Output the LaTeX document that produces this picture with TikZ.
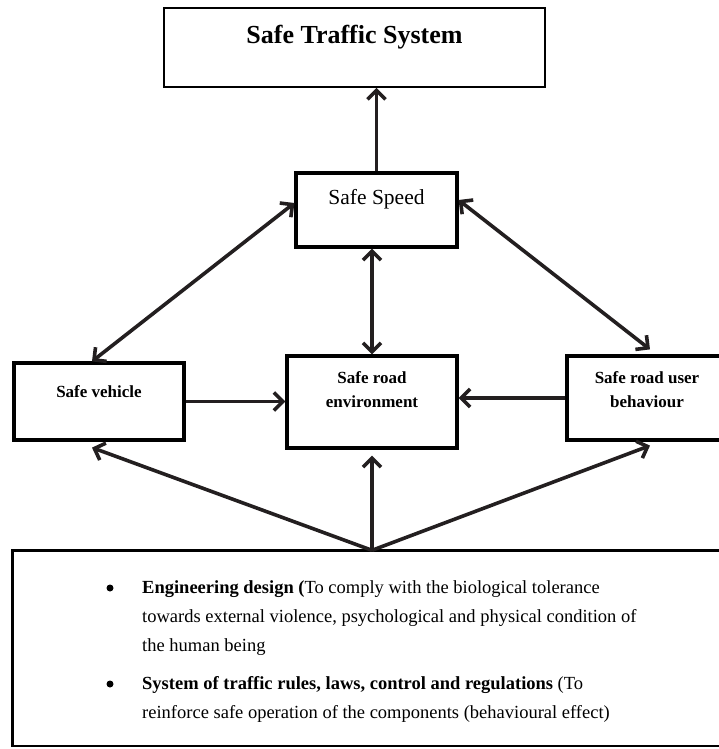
\documentclass[tikz,border=0pt]{standalone}
\usepackage{fontspec}
\setmainfont{Liberation Serif}
\usetikzlibrary{arrows.meta}
\definecolor{ink}{HTML}{231F20}
\begin{document}
\begin{tikzpicture}[x=1pt,y=-1pt,
  box/.style={draw=black, line width=3.2pt, rectangle, inner sep=0pt},
  lbl/.style={inner sep=0pt, align=center},
  arr/.style={draw=ink, line width=3.6pt, -{Straight Barb[length=9pt,width=18pt]}},
  darr/.style={draw=ink, line width=3.6pt, {Straight Barb[length=9pt,width=18pt]}-{Straight Barb[length=9pt,width=18pt]}},
  body/.style={inner sep=0pt, anchor=base west, font=\fontsize{18.5}{29}\selectfont},
  dot/.style={circle, fill=black, inner sep=0pt, minimum size=7pt}
]
\useasboundingbox (0,0) rectangle (719,749);
\clip (0,0) rectangle (719,749);

% boxes
\node[box, line width=1.6pt, minimum width=381pt, minimum height=79pt] (ts) at (354.5,47.5) {};
\node[lbl, font=\bfseries\fontsize{26}{30}\selectfont] (tst) at (354.5,37) {Safe Traffic System};

\node[box, minimum width=161pt, minimum height=74pt] (ss) at (376.5,210) {};
\node[lbl, font=\fontsize{21.5}{26}\selectfont] (sst) at (376.5,199) {Safe Speed};

\node[box, minimum width=170pt, minimum height=77pt] (sv) at (99,401.5) {};
\node[lbl, font=\bfseries\fontsize{17}{24}\selectfont] (svt) at (99,392) {Safe vehicle};

\node[box, minimum width=170pt, minimum height=92pt] (env) at (372,402) {};
\node[lbl, font=\bfseries\fontsize{17}{24}\selectfont] (envt) at (372,390) {Safe road\\environment};

\node[box, minimum width=160pt, minimum height=84pt] (ub) at (647,398) {};
\node[lbl, font=\bfseries\fontsize{17}{24}\selectfont] (ubt) at (647,390) {Safe road user\\behaviour};

\node[box, line width=1.4pt, minimum width=717pt, minimum height=195pt] (bb) at (371.5,648.5) {};
\draw[line width=3.2pt] (bb.south west) -- (bb.north west) -- (bb.north east);

% bottom text
\node[dot] (d1) at (110,588) {};
\node[body] (l1) at (142,593) {\textbf{Engineering design (}To comply with the biological tolerance};
\node[body] (l2) at (142,622) {towards external violence, psychological and physical condition of};
\node[body] (l3) at (142,651) {the human being};
\node[dot] (d2) at (110,684) {};
\node[body] (l4) at (142,689) {\textbf{System of traffic rules, laws, control and regulations} (To};
\node[body] (l5) at (142,718) {reinforce safe operation of the components (behavioural effect)};

% connectors
\draw[arr] (ss.north) -- (ss.north |- ts.south);
\draw[darr] ([yshift=7pt]ss.west) -- ([xshift=-7pt]sv.north);
\draw[darr] ([yshift=10pt]ss.east) -- ([xshift=3pt,yshift=5pt]ub.north);
\draw[darr] (env.north |- ss.south) -- (env.north);
\draw[arr] (sv.east) -- (sv.east -| env.west);
\draw[arr] (ub.west) -- (ub.west -| env.east);
\coordinate (src) at (env.south |- bb.north);
\draw[arr] (src) -- ([xshift=-7pt,yshift=-6pt]sv.south);
\draw[arr] (src) -- ([yshift=-6pt]env.south);
\draw[arr] (src) -- ([xshift=3pt,yshift=-4pt]ub.south);
\end{tikzpicture}
\end{document}
